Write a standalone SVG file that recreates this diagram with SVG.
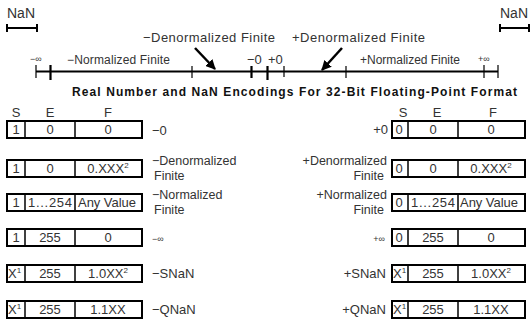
<svg xmlns="http://www.w3.org/2000/svg" width="531" height="325" viewBox="0 0 531 325">
<defs>
<style>
text{font-family:"Liberation Sans",Arial,sans-serif;fill:#333;}
.t{font-size:13px;}
.nan{font-size:14px;}
.lbl{font-size:13px;}
.two{font-size:12.5px;}
.top{font-size:12px;}
.sm{font-size:9px;}
.c{font-size:13px;text-anchor:middle;}
.e{text-anchor:end;}
.ttl{font-size:12px;font-weight:bold;fill:#111;}
.ln{stroke:#000;fill:none;}
.box{stroke:#000;stroke-width:2;fill:#fff;}
.dv{stroke:#000;stroke-width:1.5;}
.sup{font-size:8px;}
</style>
<marker id="ah" viewBox="0 0 10 10" refX="9" refY="5" markerWidth="4" markerHeight="4" orient="auto" markerUnits="strokeWidth">
<path d="M0,0 L10,5 L0,10 z" fill="#000"/>
</marker>
</defs>

<g id="nan-left">
<text class="nan" x="7" y="18">NaN</text>
<path class="ln" stroke-width="2" d="M7,28 H37 M7,24 V32 M37,24 V32"/>
</g>
<g id="nan-right">
<text class="nan" x="500" y="18" textLength="28">NaN</text>
<path class="ln" stroke-width="2" d="M500,28 H529 M500,24 V32 M529,24 V32"/>
</g>

<g id="number-line">
<path class="ln" stroke-width="2" d="M36,71.5 H498"/>
<path class="ln" stroke-width="1.2" d="M36,65 V78 M192,66 V78 M284,66 V77 M346,66 V78 M484,65 V78 M498,65 V78"/>
<path class="ln" stroke-width="2.2" d="M50.5,65 V80 M251.5,66 V78 M267.5,66 V80"/>
<text class="sm" x="30" y="62">−∞</text>
<text class="top" x="67" y="64" textLength="103">−Normalized Finite</text>
<text class="lbl" x="247" y="64">−0</text>
<text class="lbl" x="268" y="64">+0</text>
<text class="top" x="360" y="64" textLength="100">+Normalized Finite</text>
<text class="sm" x="478" y="62">+∞</text>
</g>

<g id="denorm-labels">
<text class="lbl" x="143" y="42" font-size="13.5" textLength="132">−Denormalized Finite</text>
<text class="lbl" x="292" y="42" font-size="13.5" textLength="133">+Denormalized Finite</text>
</g>

<g id="connectors">
<line class="ln" stroke-width="2.5" x1="195" y1="48" x2="215" y2="69" marker-end="url(#ah)"/>
<line class="ln" stroke-width="2.5" x1="342" y1="48" x2="322" y2="70" marker-end="url(#ah)"/>
</g>

<g id="title">
<text class="ttl" x="72" y="96" textLength="445">Real Number and NaN Encodings For 32-Bit Floating-Point Format</text>
</g>

<g id="headers-left">
<text class="c" x="16" y="117">S</text>
<text class="c" x="50" y="117">E</text>
<text class="c" x="108" y="117">F</text>
</g>
<g id="headers-right">
<text class="c" x="403" y="117">S</text>
<text class="c" x="437" y="117">E</text>
<text class="c" x="493" y="117">F</text>
</g>

<!-- Left column -->
<g id="neg-zero">
<rect class="box" x="7" y="121" width="135" height="17"/>
<line class="dv" x1="25" y1="121" x2="25" y2="138"/>
<line class="dv" x1="75" y1="121" x2="75" y2="138" stroke-width="2"/>
<text class="c" x="16" y="134">1</text>
<text class="c" x="50" y="134">0</text>
<text class="c" x="108" y="134">0</text>
<text class="lbl" x="152" y="135">−0</text>
</g>
<g id="neg-denorm">
<rect class="box" x="7" y="160" width="135" height="17"/>
<line class="dv" x1="25" y1="160" x2="25" y2="177"/>
<line class="dv" x1="75" y1="160" x2="75" y2="177" stroke-width="2"/>
<text class="c" x="16" y="173">1</text>
<text class="c" x="50" y="173">0</text>
<text class="c" x="108" y="173">0.XXX<tspan class="sup" dy="-5">2</tspan></text>
<text class="two" x="152" y="165">−Denormalized</text>
<text class="two" x="154" y="180">Finite</text>
</g>
<g id="neg-norm">
<rect class="box" x="7" y="194" width="135" height="17"/>
<line class="dv" x1="25" y1="194" x2="25" y2="211" stroke-width="2"/>
<line class="dv" x1="75" y1="194" x2="75" y2="211" stroke-width="2"/>
<text class="c" x="16" y="207">1</text>
<text class="c" x="50" y="207" textLength="44">1...254</text>
<text class="c" x="107" y="207" textLength="58">Any Value</text>
<text class="two" x="152" y="199">−Normalized</text>
<text class="two" x="154" y="214">Finite</text>
</g>
<g id="neg-inf">
<rect class="box" x="7" y="229" width="135" height="17"/>
<line class="dv" x1="25" y1="229" x2="25" y2="246" stroke-width="2"/>
<line class="dv" x1="75" y1="229" x2="75" y2="246"/>
<text class="c" x="16" y="242">1</text>
<text class="c" x="50" y="242">255</text>
<text class="c" x="108" y="242">0</text>
<text class="sm" x="152" y="242">−∞</text>
</g>
<g id="neg-snan">
<rect class="box" x="7" y="265" width="135" height="17"/>
<line class="dv" x1="25" y1="265" x2="25" y2="282"/>
<line class="dv" x1="75" y1="265" x2="75" y2="282" stroke-width="2"/>
<text class="t" x="8" y="278">X<tspan class="sup" dy="-5">1</tspan></text>
<text class="c" x="50" y="278">255</text>
<text class="c" x="108" y="278">1.0XX<tspan class="sup" dy="-5">2</tspan></text>
<text class="lbl" x="152" y="278">−SNaN</text>
</g>
<g id="neg-qnan">
<rect class="box" x="7" y="301" width="135" height="17"/>
<line class="dv" x1="25" y1="301" x2="25" y2="318"/>
<line class="dv" x1="75" y1="301" x2="75" y2="318"/>
<text class="t" x="8" y="314">X<tspan class="sup" dy="-5">1</tspan></text>
<text class="c" x="50" y="314">255</text>
<text class="c" x="108" y="314">1.1XX</text>
<text class="lbl" x="152" y="314">−QNaN</text>
</g>

<!-- Right column -->
<g id="pos-zero">
<rect class="box" x="392" y="121" width="133" height="17"/>
<line class="dv" x1="408" y1="121" x2="408" y2="138" stroke-width="2"/>
<line class="dv" x1="458" y1="121" x2="458" y2="138" stroke-width="1"/>
<text class="c" x="399" y="134">0</text>
<text class="c" x="433" y="134">0</text>
<text class="c" x="491" y="134">0</text>
<text class="lbl e" x="388" y="134">+0</text>
</g>
<g id="pos-denorm">
<rect class="box" x="392" y="160" width="133" height="17"/>
<line class="dv" x1="408" y1="160" x2="408" y2="177" stroke-width="1"/>
<line class="dv" x1="458" y1="160" x2="458" y2="177" stroke-width="1"/>
<text class="c" x="399" y="173">0</text>
<text class="c" x="433" y="173">0</text>
<text class="c" x="491" y="173">0.XXX<tspan class="sup" dy="-5">2</tspan></text>
<text class="two e" x="387" y="165">+Denormalized</text>
<text class="two e" x="384" y="180">Finite</text>
</g>
<g id="pos-norm">
<rect class="box" x="392" y="194" width="133" height="17"/>
<line class="dv" x1="408" y1="194" x2="408" y2="211"/>
<line class="dv" x1="458" y1="194" x2="458" y2="211" stroke-width="2"/>
<text class="c" x="399" y="207">0</text>
<text class="c" x="433" y="207" textLength="44">1...254</text>
<text class="c" x="489" y="207" textLength="58">Any Value</text>
<text class="two e" x="387" y="199">+Normalized</text>
<text class="two e" x="384" y="214">Finite</text>
</g>
<g id="pos-inf">
<rect class="box" x="392" y="229" width="133" height="17"/>
<line class="dv" x1="408" y1="229" x2="408" y2="246" stroke-width="2"/>
<line class="dv" x1="458" y1="229" x2="458" y2="246" stroke-width="2"/>
<text class="c" x="399" y="242">0</text>
<text class="c" x="433" y="242">255</text>
<text class="c" x="491" y="242">0</text>
<text class="sm e" x="385" y="242">+∞</text>
</g>
<g id="pos-snan">
<rect class="box" x="392" y="265" width="133" height="17"/>
<line class="dv" x1="408" y1="265" x2="408" y2="282"/>
<line class="dv" x1="458" y1="265" x2="458" y2="282" stroke-width="2"/>
<text class="t" x="393" y="278">X<tspan class="sup" dy="-5">1</tspan></text>
<text class="c" x="433" y="278">255</text>
<text class="c" x="491" y="278">1.0XX<tspan class="sup" dy="-5">2</tspan></text>
<text class="lbl e" x="386" y="278">+SNaN</text>
</g>
<g id="pos-qnan">
<rect class="box" x="392" y="301" width="133" height="17"/>
<line class="dv" x1="408" y1="301" x2="408" y2="318"/>
<line class="dv" x1="458" y1="301" x2="458" y2="318" stroke-width="2"/>
<text class="t" x="393" y="314">X<tspan class="sup" dy="-5">1</tspan></text>
<text class="c" x="433" y="314">255</text>
<text class="c" x="491" y="314">1.1XX</text>
<text class="lbl e" x="386" y="314">+QNaN</text>
</g>
</svg>
